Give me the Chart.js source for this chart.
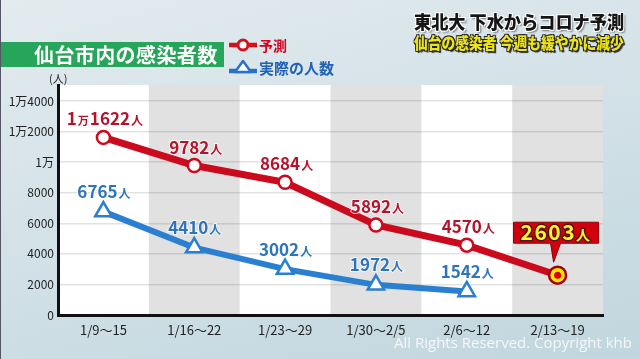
<!DOCTYPE html>
<html>
<head>
<meta charset="utf-8">
<script src="https://cdn.jsdelivr.net/npm/chart.js@4.4.1/dist/chart.umd.min.js"></script>
<style>
  html, body { margin: 0; padding: 0; }
  body {
    width: 640px; height: 359px; overflow: hidden; position: relative;
    background: linear-gradient(165deg, #e3ebee 0%, #d4e2e8 45%, #c1d6de 100%);
    font-family: "Noto Sans CJK JP", sans-serif;
    border-left: 1px solid #556;
    box-sizing: border-box;
  }
  #chart { position: absolute; left: 0; top: 0; }
  .title {
    position: absolute; left: 0; top: 42px; width: 223px; height: 25px;
    background: #27a55a; color: #fff; font-weight: bold; font-size: 20px;
    line-height: 25px; box-sizing: border-box; padding-left: 33px; letter-spacing: 0.4px;
    white-space: nowrap;
  }
  .leg { position: absolute; left: 228px; font-weight: bold; white-space: nowrap; }
  .leg svg { position: absolute; left: 0; }
  .leg span { position: absolute; left: 30px; }
  .head { position: absolute; left: 413px; white-space: nowrap; font-weight: 900; transform-origin: left top; }
  .h1 {
    top: 8px; font-size: 18px; color: #151515;
    text-shadow: 1px 1px 0 #fff, -1px -1px 0 #fff, 1px -1px 0 #fff, -1px 1px 0 #fff, 2px 2px 2px #777;
  }
  .h2 {
    top: 30px; font-size: 16px; color: #ebe41a;
    text-shadow: 1px 1px 0 #222, -1px -1px 0 #222, 1px -1px 0 #222, -1px 1px 0 #222, 2px 2px 1px #333;
  }
  .unit { position: absolute; left: 48px; top: 70px; font-size: 11px; color: #222; }
  .copy {
    position: absolute; right: 8px; top: 332px; font-family: "Open Sans", sans-serif;
    font-size: 15px; color: rgba(255,255,255,0.8); white-space: nowrap;
  }
</style>
</head>
<body>
<canvas id="chart" width="640" height="359"></canvas>
<div class="title">仙台市内の感染者数</div>
<div class="leg" style="top:36px">
  <svg width="28" height="18"><line x1="0" y1="9" x2="28" y2="9" stroke="#d8101e" stroke-width="4.5"/><circle cx="14" cy="9" r="5" fill="#fff" stroke="#d8101e" stroke-width="3"/></svg>
  <span style="color:#d4001a;font-size:14px;line-height:18px">予測</span>
</div>
<div class="leg" style="top:58px">
  <svg width="28" height="18"><line x1="0" y1="13" x2="28" y2="13" stroke="#2a70c8" stroke-width="4.5"/><polygon points="6,14 14,3 22,14" fill="#fff" stroke="#2a70c8" stroke-width="2.5" stroke-linejoin="round"/></svg>
  <span style="color:#2262b4;font-size:15px;line-height:20px">実際の人数</span>
</div>
<div class="head h1" id="h1">東北大 下水からコロナ予測</div>
<div class="head h2" id="h2">仙台の感染者 今週も緩やかに減少</div>
<div class="unit">(人)</div>
<div class="copy">All Rights Reserved. Copyright khb</div>

<script>
const weeks = ["1/9～15", "1/16～22", "1/23～29", "1/30～2/5", "2/6～12", "2/13～19"];
const predicted = [11622, 9782, 8684, 5892, 4570, 2603];
const actual = [6765, 4410, 3002, 1972, 1542, null];
const yTicks = [0, 2000, 4000, 6000, 8000, 10000, 12000, 14000];
const yTickLabels = ["0", "2000", "4000", "6000", "8000", "1万", "1万2000", "1万4000"];

const FONT = "\"Noto Sans CJK JP\", sans-serif";
const RED = "#cc0a1e";
const BLUE = "#2b7fd0";

// squeeze the headline lines to their width in the picture
["h1", "h2"].forEach(id => {
  const el = document.getElementById(id);
  el.style.transform = "scaleX(" + (210 / el.offsetWidth) + ")";
});

function valueParts(v) {
  if (v >= 10000) {
    return [[String(Math.floor(v / 10000)), 17], ["万", 11], [String(v % 10000).padStart(4, "0"), 17], ["人", 12]];
  }
  return [[String(v), 17], ["人", 12]];
}

function drawParts(ctx, parts, cx, cy, color) {
  ctx.save();
  ctx.fillStyle = color;
  ctx.textBaseline = "alphabetic";
  ctx.textAlign = "left";
  let total = 0;
  parts.forEach(p => {
    ctx.font = "bold " + p[1] + "px " + FONT;
    total += ctx.measureText(p[0]).width + 1;
  });
  let x = cx - total / 2;
  const base = cy + 6;
  parts.forEach(p => {
    ctx.font = "bold " + p[1] + "px " + FONT;
    ctx.strokeStyle = "rgba(255,255,255,0.7)";
    ctx.lineWidth = 2;
    ctx.strokeText(p[0], x, base);
    ctx.fillText(p[0], x, base);
    x += ctx.measureText(p[0]).width + 1;
  });
  ctx.restore();
}

const plotBg = {
  id: "plotBg",
  beforeDraw(chart) {
    const { ctx, chartArea: a, scales: { x } } = chart;
    ctx.save();
    ctx.fillStyle = "#ffffff";
    ctx.fillRect(a.left, a.top, a.right - a.left, a.bottom - a.top);
    const half = (x.getPixelForValue(1) - x.getPixelForValue(0)) / 2;
    weeks.forEach((w, i) => {
      if (i % 2 === 1) {
        const c = x.getPixelForValue(i);
        ctx.fillStyle = "#e1e1e1";
        ctx.fillRect(c - half, a.top, half * 2, a.bottom - a.top);
      }
    });
    ctx.restore();
  }
};

const valueLabels = {
  id: "valueLabels",
  afterDatasetsDraw(chart) {
    const ctx = chart.ctx;
    const redPts = chart.getDatasetMeta(0).data;
    const bluePts = chart.getDatasetMeta(1).data;

    redPts.forEach((pt, i) => {
      if (i === predicted.length - 1) return;
      drawParts(ctx, valueParts(predicted[i]), pt.x + 2, pt.y - 18, "#b5122b");
    });
    bluePts.forEach((pt, i) => {
      if (actual[i] == null) return;
      drawParts(ctx, valueParts(actual[i]), pt.x + 1, pt.y - 19.5, "#2c74bb");
    });

    // last forecast point: red centre dot and callout box
    const last = redPts[predicted.length - 1];
    ctx.save();
    ctx.fillStyle = "#d8000c";
    ctx.beginPath();
    ctx.arc(last.x, last.y, 3.5, 0, Math.PI * 2);
    ctx.fill();

    const top = last.y - 53, bottom = last.y - 32;
    const left = last.x - 44, right = last.x + 41;
    ctx.fillStyle = "#d2000e";
    ctx.strokeStyle = "#8c0008";
    ctx.lineWidth = 1;
    ctx.beginPath();
    ctx.moveTo(left, top);
    ctx.lineTo(right, top);
    ctx.lineTo(right, bottom);
    ctx.lineTo(last.x + 3, bottom);
    ctx.lineTo(last.x - 4, last.y - 13);
    ctx.lineTo(last.x - 7, bottom);
    ctx.lineTo(left, bottom);
    ctx.closePath();
    ctx.fill();
    ctx.stroke();

    ctx.textBaseline = "alphabetic";
    ctx.textAlign = "left";
    const parts = [[String(predicted[predicted.length - 1]), 21], ["人", 14]];
    let total = 0;
    ctx.letterSpacing = "1.5px";
    parts.forEach(p => { ctx.font = "bold " + p[1] + "px " + FONT; total += ctx.measureText(p[0]).width; });
    let x = (left + right) / 2 - total / 2;
    const base = (top + bottom) / 2 + 7.5;
    parts.forEach(p => {
      ctx.font = "bold " + p[1] + "px " + FONT;
      ctx.strokeStyle = "#5a1000";
      ctx.lineWidth = 3;
      ctx.lineJoin = "round";
      ctx.strokeText(p[0], x, base);
      ctx.fillStyle = "#fff23a";
      ctx.fillText(p[0], x, base);
      x += ctx.measureText(p[0]).width;
    });
    ctx.restore();
  }
};

new Chart(document.getElementById("chart"), {
  type: "line",
  data: {
    labels: weeks,
    datasets: [{
      label: "予測",
      data: predicted,
      borderColor: RED,
      borderWidth: 7,
      tension: 0,
      clip: false,
      pointRadius: c => c.dataIndex === predicted.length - 1 ? 8.5 : 6.5,
      pointBackgroundColor: c => c.dataIndex === predicted.length - 1 ? "#f7e600" : "#ffffff",
      pointBorderColor: c => c.dataIndex === predicted.length - 1 ? "#a00010" : RED,
      pointBorderWidth: 2.5
    }, {
      label: "実際の人数",
      data: actual,
      borderColor: BLUE,
      borderWidth: 6,
      tension: 0,
      clip: false,
      pointStyle: "triangle",
      pointRadius: 9.5,
      pointBackgroundColor: "#ffffff",
      pointBorderColor: BLUE,
      pointBorderWidth: 2.5
    }]
  },
  options: {
    responsive: false,
    animation: false,
    devicePixelRatio: 1,
    layout: { padding: { top: 85, right: 38, left: 0, bottom: 0 } },
    plugins: {
      legend: { display: false },
      tooltip: { enabled: false }
    },
    scales: {
      x: {
        offset: true,
        grid: { display: false, drawTicks: false },
        border: { color: "#111111", width: 3 },
        ticks: { color: "#222222", font: { size: 13, family: FONT }, padding: 7, maxRotation: 0 },
        afterFit: s => { s.height = 44; }
      },
      y: {
        min: 0,
        max: 15050,
        afterBuildTicks: s => { s.ticks = yTicks.map(v => ({ value: v })); },
        ticks: {
          callback: v => yTickLabels[yTicks.indexOf(v)],
          color: "#222222",
          font: { size: 12, family: FONT },
          padding: 4
        },
        grid: { color: "rgba(0,0,0,0.11)", lineWidth: 1.5, drawTicks: false },
        border: { color: "#111111", width: 3 },
        afterFit: s => { s.width = 57; }
      }
    }
  },
  plugins: [plotBg, valueLabels]
});
</script>
</body>
</html>
